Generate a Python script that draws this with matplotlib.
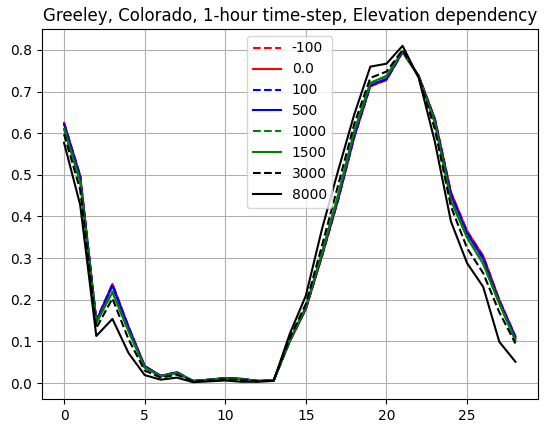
import matplotlib
matplotlib.use("Agg")
import matplotlib.pyplot as plt
import numpy as np

hours = list(range(29))
elevations = ["-100", "0.0", "100", "500", "1000", "1500", "3000", "8000"]
colors = ["red", "red", "blue", "blue", "green", "green", "black", "black"]
styles = ["--", "-", "--", "-", "--", "-", "--", "-"]

v_m100 = [0.625, 0.498, 0.150, 0.238, 0.135, 0.041, 0.017, 0.026, 0.005, 0.008, 0.012, 0.010, 0.005, 0.006,
          0.100, 0.178, 0.305, 0.440, 0.590, 0.713, 0.728, 0.795, 0.738, 0.635, 0.458, 0.365, 0.305, 0.200, 0.112]
v_0 = [0.625, 0.498, 0.150, 0.238, 0.135, 0.041, 0.017, 0.026, 0.005, 0.008, 0.012, 0.010, 0.005, 0.006,
       0.100, 0.178, 0.305, 0.440, 0.590, 0.713, 0.728, 0.795, 0.738, 0.635, 0.458, 0.365, 0.305, 0.200, 0.112]
v_100 = [0.623, 0.496, 0.149, 0.236, 0.134, 0.040, 0.017, 0.026, 0.005, 0.008, 0.012, 0.010, 0.005, 0.006,
         0.100, 0.179, 0.306, 0.441, 0.592, 0.714, 0.729, 0.795, 0.737, 0.633, 0.455, 0.362, 0.302, 0.198, 0.110]
v_500 = [0.622, 0.495, 0.148, 0.234, 0.133, 0.040, 0.017, 0.025, 0.005, 0.008, 0.012, 0.010, 0.005, 0.006,
         0.101, 0.180, 0.308, 0.443, 0.595, 0.716, 0.731, 0.796, 0.737, 0.631, 0.452, 0.359, 0.298, 0.196, 0.108]
v_1000 = [0.612, 0.485, 0.145, 0.220, 0.125, 0.037, 0.016, 0.024, 0.005, 0.008, 0.011, 0.009, 0.005, 0.006,
          0.102, 0.182, 0.312, 0.450, 0.603, 0.720, 0.737, 0.797, 0.736, 0.626, 0.440, 0.351, 0.288, 0.192, 0.103]
v_1500 = [0.610, 0.483, 0.144, 0.218, 0.124, 0.037, 0.016, 0.024, 0.005, 0.008, 0.011, 0.009, 0.005, 0.006,
          0.102, 0.183, 0.313, 0.452, 0.605, 0.721, 0.738, 0.797, 0.736, 0.625, 0.438, 0.349, 0.286, 0.190, 0.102]
v_3000 = [0.598, 0.464, 0.132, 0.203, 0.105, 0.030, 0.013, 0.020, 0.004, 0.006, 0.009, 0.007, 0.004, 0.006,
          0.108, 0.190, 0.330, 0.475, 0.622, 0.733, 0.748, 0.800, 0.735, 0.610, 0.424, 0.324, 0.264, 0.170, 0.095]
v_8000 = [0.577, 0.428, 0.113, 0.154, 0.072, 0.019, 0.008, 0.013, 0.002, 0.004, 0.006, 0.003, 0.003, 0.005,
          0.118, 0.210, 0.370, 0.510, 0.645, 0.760, 0.767, 0.810, 0.733, 0.580, 0.388, 0.288, 0.231, 0.099, 0.051]

series = [v_m100, v_0, v_100, v_500, v_1000, v_1500, v_3000, v_8000]

fig = plt.figure(figsize=(5.48, 4.33), dpi=100)
ax = fig.add_axes([41.5 / 548, 34 / 433, 496.5 / 548, 370 / 433])
for lab, c, ls, vals in zip(elevations, colors, styles, series):
    ax.plot(hours, vals, color=c, linestyle=ls, label=lab)
ax.grid(True)
ax.set_title("Greeley, Colorado, 1-hour time-step, Elevation dependency")
ax.legend(loc="upper center")
fig.savefig("out.png", dpi=100)
